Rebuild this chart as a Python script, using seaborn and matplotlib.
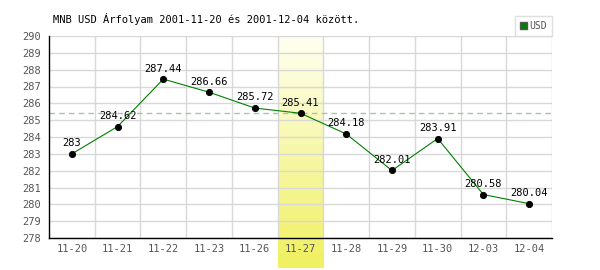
import numpy as np
import pandas as pd
import matplotlib
matplotlib.use("Agg")
import matplotlib.pyplot as plt
import seaborn as sns
from matplotlib.colors import LinearSegmentedColormap

dates = ["11-20", "11-21", "11-22", "11-23", "11-26", "11-27", "11-28", "11-29", "11-30", "12-03", "12-04"]
usd = [283.00, 284.62, 287.44, 286.66, 285.72, 285.41, 284.18, 282.01, 283.91, 280.58, 280.04]
labels = ["283", "284.62", "287.44", "286.66", "285.72", "285.41", "284.18", "282.01", "283.91", "280.58", "280.04"]
highlight = "11-27"
ref_value = 285.41
title = "MNB USD Árfolyam 2001-11-20 és 2001-12-04 között."

sns.set_theme(style="white")
plt.rcParams['font.family'] = ['DejaVu Sans Mono']

df = pd.DataFrame({"date": dates, "usd": usd})

fig = plt.figure(figsize=(6, 2.7), dpi=100)
ax = fig.add_axes([49/600, 1-238/270, (552-49)/600, (238-36)/270])

ymin, ymax = 278, 290
hi = dates.index(highlight)
cmap = LinearSegmentedColormap.from_list("hl", ["#fffff2", "#f0f060"])
grad = np.linspace(0, 1, 256).reshape(-1, 1)
ax.imshow(grad, cmap=cmap, aspect="auto", origin="upper",
          extent=[hi-0.5, hi+0.5, ymin-30/16.83, ymax], clip_on=False, zorder=0)

for y in range(ymin, ymax+1):
    ax.axhline(y, color="#d8d8d8", lw=1, zorder=1)
for i in range(len(dates)):
    ax.axvline(i+0.5, color="#d8d8d8", lw=1, zorder=1)

ax.axhline(ref_value, color="#a8c4a8", lw=1, ls=(0, (4, 3)), zorder=2)

sns.pointplot(data=df, x="date", y="usd", color="#008000", markers="o",
              linewidth=0.8, markersize=4.5, ax=ax, zorder=3, label="USD")
for coll in ax.collections:
    coll.set_facecolor("black")
    coll.set_edgecolor("black")
for ln in ax.lines:
    if ln.get_marker() == "o":
        ln.set_markerfacecolor("black")
        ln.set_markeredgecolor("black")

for i, (v, t) in enumerate(zip(usd, labels)):
    ax.annotate(t, (i, v), xytext=(0, 4), textcoords="offset points",
                ha="center", va="bottom", fontsize=7.5, color="black", zorder=5)

ax.set_xlim(-0.5, len(dates)-0.5)
ax.set_ylim(ymin, ymax)
ax.set_yticks(range(ymin, ymax+1))
ax.set_xlabel("")
ax.set_ylabel("")
ax.tick_params(axis="both", labelsize=7.5, labelcolor="#555555", length=0)
ax.tick_params(axis="x", pad=4)
ax.tick_params(axis="y", pad=6)
for s in ["top", "right"]:
    ax.spines[s].set_visible(False)
for s in ["left", "bottom"]:
    ax.spines[s].set_color("black")
    ax.spines[s].set_linewidth(1)
    ax.spines[s].set_zorder(4)

fig.text(53/600, 1-19/270, title, fontsize=7.5, ha="left", va="center", color="black")

leg = ax.legend(handles=[plt.Rectangle((0, 0), 1, 1, fc="#008000", ec="#555555")],
                labels=["USD"], loc="lower right", bbox_to_anchor=(1.0, 1.0),
                frameon=True, fancybox=False, fontsize=7, handlelength=0.7,
                handleheight=0.7, handletextpad=0.3, borderpad=0.5, borderaxespad=0)
leg.get_frame().set_edgecolor("#d8d8d8")
leg.get_frame().set_linewidth(1)
for t in leg.get_texts():
    t.set_color("#555555")

fig.savefig("out.png", dpi=100, facecolor="white")
